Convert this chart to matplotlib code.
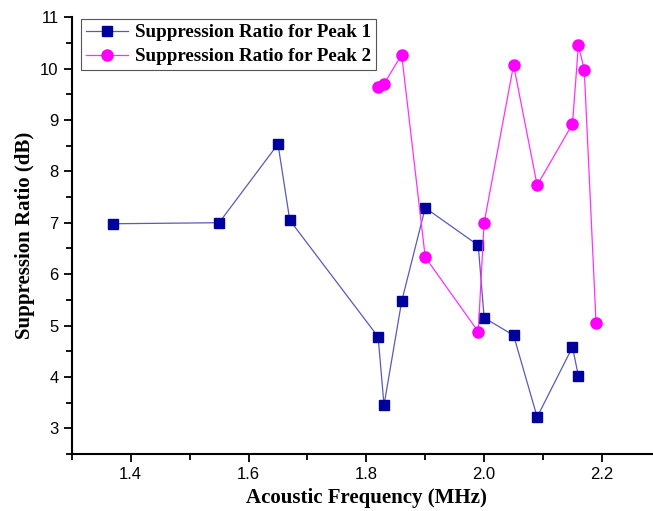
import matplotlib
matplotlib.use('Agg')
import matplotlib.pyplot as plt
from matplotlib.ticker import MultipleLocator

# Peak 1 data
freq1 = [1.37, 1.55, 1.65, 1.67, 1.82, 1.83, 1.86, 1.90, 1.99, 2.00, 2.05, 2.09, 2.15, 2.16]
ratio1 = [6.98, 7.00, 8.53, 7.05, 4.78, 3.45, 5.47, 7.29, 6.56, 5.15, 4.81, 3.22, 4.58, 4.02]

# Peak 2 data
freq2 = [1.82, 1.83, 1.86, 1.90, 1.99, 2.00, 2.05, 2.09, 2.15, 2.16, 2.17, 2.19]
ratio2 = [9.65, 9.70, 10.27, 6.33, 4.88, 7.00, 10.07, 7.73, 8.92, 10.45, 9.98, 5.05]

fig = plt.figure(figsize=(6.53, 5.11), dpi=100)
ax = fig.add_axes([0.110, 0.1115, 0.902, 0.855])

ax.plot(freq1, ratio1, color='#5a5ab8', lw=0.9, marker='s', ms=7.2,
        mfc='#00009c', mec='#00009c', label='Suppression Ratio for Peak 1')
ax.plot(freq2, ratio2, color='#ff30ff', lw=0.9, marker='o', ms=8,
        mfc='#ff00ff', mec='#ff00ff', label='Suppression Ratio for Peak 2')

ax.set_xlim(1.3, 2.3)
ax.set_ylim(2.5, 11)
ax.xaxis.set_major_locator(MultipleLocator(0.2))
ax.xaxis.set_minor_locator(MultipleLocator(0.1))
ax.yaxis.set_major_locator(MultipleLocator(1))
ax.yaxis.set_minor_locator(MultipleLocator(0.5))
ax.set_xticks([1.4, 1.6, 1.8, 2.0, 2.2])
ax.set_xticklabels(['1.4', '1.6', '1.8', '2.0', '2.2'])

for s in ['top', 'right']:
    ax.spines[s].set_visible(False)
for s in ['left', 'bottom']:
    ax.spines[s].set_linewidth(1.5)

ax.tick_params(which='major', direction='out', length=6, width=1.3, labelsize=12)
ax.tick_params(which='minor', direction='out', length=4, width=1.3)
for lab in ax.get_xticklabels() + ax.get_yticklabels():
    lab.set_family('Liberation Sans')

ax.set_xlabel('Acoustic Frequency (MHz)', family='Liberation Serif', fontweight='bold', fontsize=15)
ax.set_ylabel('Suppression Ratio (dB)', family='Liberation Serif', fontweight='bold', fontsize=15)

leg = ax.legend(loc='upper left', bbox_to_anchor=(0.0155, 0.995), borderaxespad=0,
                prop={'family': 'Liberation Serif', 'weight': 'bold', 'size': 13.7},
                fancybox=False, edgecolor='#555555', framealpha=1,
                borderpad=0.25, handlelength=2.2, labelspacing=0.35, handletextpad=0.4)
leg.get_frame().set_linewidth(0.8)

plt.savefig('out.png', dpi=100)
